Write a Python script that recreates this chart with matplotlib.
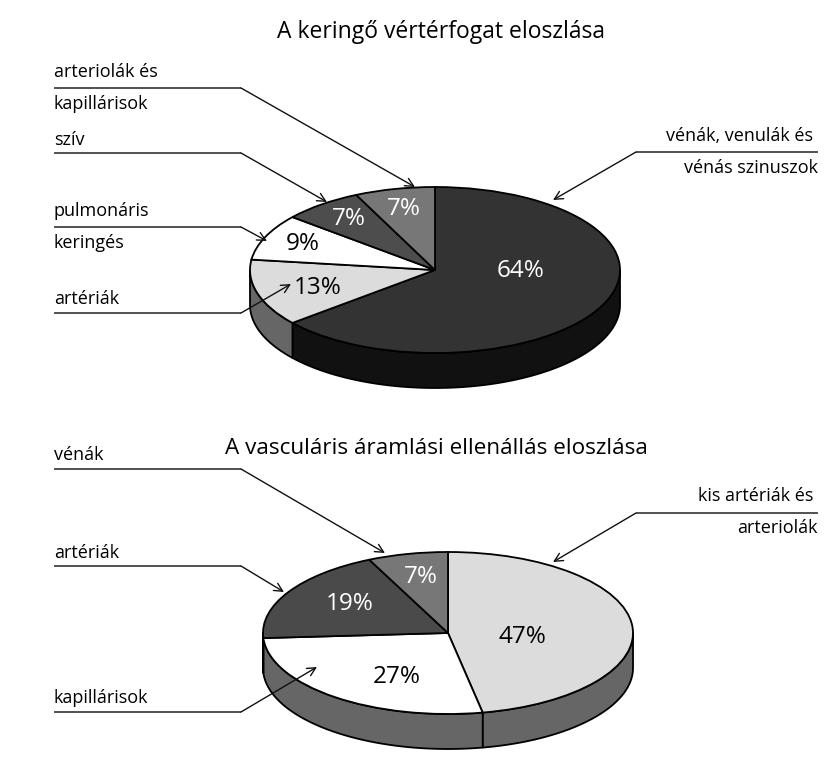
import numpy as np
import matplotlib
matplotlib.use('Agg')
import matplotlib.pyplot as plt
from matplotlib.patches import Wedge, Polygon
from matplotlib.transforms import Affine2D

plt.rcParams['font.family'] = ['Open Sans', 'DejaVu Sans']

volume_title = 'A keringő vértérfogat eloszlása'
volume_shares = [64, 13, 9, 7, 7]
volume_faces = ['#333333', '#dcdcdc', '#ffffff', '#4d4d4d', '#777777']
volume_sides = ['#111111', '#666666', '#666666', '#666666', '#666666']
volume_text = ['white', 'black', 'black', 'white', 'white']

resist_title = 'A vasculáris áramlási ellenállás eloszlása'
resist_shares = [47, 27, 19, 7]
resist_faces = ['#dcdcdc', '#ffffff', '#4a4a4a', '#777777']
resist_sides = ['#666666', '#666666', '#666666', '#666666']
resist_text = ['black', 'black', 'white', 'white']


def draw_pie(ax, cx, cy, rx, ry, depth, shares, faces, sides, text_cols, pct_pos):
    to_data = Affine2D().scale(rx, -ry).translate(cx, cy) + ax.transData
    edges = np.cumsum([0] + shares) / sum(shares) * 360
    for i in range(len(shares)):
        # clockwise from 12 o'clock
        a1 = 90 - edges[i + 1]
        a2 = 90 - edges[i]
        # side wall, only the part facing us
        lo = max(a1, -180)
        hi = min(a2, 0)
        if hi > lo:
            t = np.radians(np.linspace(lo, hi, 80))
            x = cx + rx * np.cos(t)
            y = cy - ry * np.sin(t)
            pts = np.vstack([np.c_[x, y], np.c_[x[::-1], y[::-1] + depth]])
            ax.add_patch(Polygon(pts, closed=True, fc=sides[i], ec='black', lw=1.3,
                                 joinstyle='round', zorder=2))
        ax.add_patch(Wedge((0, 0), 1, a1, a2, fc=faces[i], ec='black', lw=1.3,
                           transform=to_data, zorder=3))
        ax.text(pct_pos[i][0], pct_pos[i][1], f'{shares[i]}%', color=text_cols[i], fontsize=17.5,
                ha='center', va='center', zorder=5)


def callout(ax, x_far, y, x_knee, tip):
    ax.plot([x_far, x_knee], [y, y], color='#222222', lw=1.1, zorder=4, solid_capstyle='butt')
    ax.annotate('', xy=tip, xytext=(x_knee, y), zorder=6,
                arrowprops=dict(arrowstyle='->,head_length=0.6,head_width=0.3', color='#111111',
                                lw=1.0, shrinkA=0, shrinkB=0))


fig = plt.figure(figsize=(8.29, 7.58), dpi=100)
ax = fig.add_axes([0, 0, 1, 1])
ax.set_xlim(0, 829)
ax.set_ylim(758, 0)
ax.axis('off')

draw_pie(ax, 435, 270, 185, 83, 35, volume_shares, volume_faces, volume_sides, volume_text,
         [(521, 271), (318, 288), (303, 244), (349, 219), (404, 209)])
draw_pie(ax, 448, 633, 185, 81, 35, resist_shares, resist_faces, resist_sides, resist_text,
         [(522, 637), (397, 677), (350, 604), (421, 577)])

ax.text(441, 32, volume_title, fontsize=16.5, ha='center', va='center')
ax.text(436, 448, resist_title, fontsize=16.2, ha='center', va='center')

for txt, y in [('arteriolák és', 72), ('kapillárisok', 104), ('szív', 140),
               ('pulmonáris', 211), ('keringés', 243), ('artériák', 299),
               ('vénák', 455), ('artériák', 553), ('kapillárisok', 698)]:
    ax.text(54, y, txt, fontsize=13, ha='left', va='center')
for txt, x, y in [('vénák, venulák és', 813, 136), ('vénás szinuszok', 818, 168),
                  ('kis artériák és', 813, 496), ('arteriolák', 818, 528)]:
    ax.text(x, y, txt, fontsize=13, ha='right', va='center')

callout(ax, 54, 88, 241, (415, 187))
callout(ax, 54, 153, 241, (327, 202))
callout(ax, 54, 227, 241, (267, 241))
callout(ax, 54, 313, 241, (291, 284))
callout(ax, 818, 152, 636, (553, 200))
callout(ax, 54, 469, 241, (385, 553))
callout(ax, 54, 566, 241, (284, 592))
callout(ax, 54, 712, 241, (317, 667))
callout(ax, 818, 513, 636, (553, 562))

fig.savefig('out.png', dpi=100)
